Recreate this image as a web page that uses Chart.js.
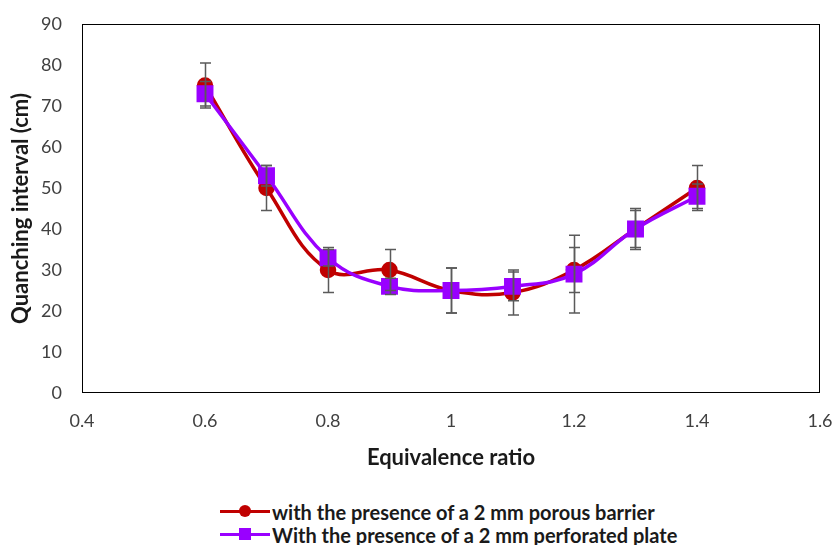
<!DOCTYPE html>
<html>
<head>
<meta charset="utf-8">
<script src="https://cdn.jsdelivr.net/npm/chart.js@4/dist/chart.umd.min.js"></script>
<style>
  body { margin: 0; background: #fff; width: 834px; height: 545px; position: relative; overflow: hidden; }
  #wrap { position: absolute; left: 0; top: 0; width: 834px; height: 475px; }
  #legenda { position: absolute; left: 220px; top: 500px; font-family: Lato, sans-serif; font-weight: bold; font-size: 20px; color: #1a1a1a; }
  .item { height: 23px; display: flex; align-items: center; }
  .amostra { position: relative; width: 52px; height: 23px; }
  .amostra .linha { position: absolute; left: 0; top: 10px; width: 50px; height: 3px; }
  .amostra .marca { position: absolute; }
</style>
</head>
<body>
<div id="wrap"><canvas id="grafico_quench"></canvas></div>
<div id="legenda">
  <div class="item"><div class="amostra"><div class="linha" style="background:#C00000"></div><div class="marca" style="left:19px;top:5px;width:12px;height:12px;border-radius:50%;background:#C00000"></div></div><span>with the presence of a 2 mm porous barrier</span></div>
  <div class="item"><div class="amostra"><div class="linha" style="background:#9900FF"></div><div class="marca" style="left:19px;top:5px;width:12px;height:12px;background:#9900FF"></div></div><span>With the presence of a 2 mm perforated plate</span></div>
</div>
<script>
// razão de equivalência (eixo x)
const ratios = [0.6, 0.7, 0.8, 0.9, 1.0, 1.1, 1.2, 1.3, 1.4];

// barreira porosa 2 mm
const porous_barrier = [75, 50, 30, 30, 25, 24.5, 30, 40, 50];
const porous_err = [5.5, 5.5, 5.5, 5, 5.5, 5.5, 5.5, 5, 5.5];

// placa perfurada 2 mm
const perforated_plate = [73, 53, 33, 26, 25, 26, 29, 40, 48];
const perforated_err = [3, 2.5, 2, 2, 5.5, 3.5, 9.5, 4.5, 3];

const x_ticks = [0.4, 0.6, 0.8, 1, 1.2, 1.4, 1.6];

const pares = (ys) => ratios.map((x, i) => ({ x: x, y: ys[i] }));
const erros = [porous_err, perforated_err];

// moldura + barras de erro
const extras = {
    id: "extras",
    beforeDatasetsDraw(chart) {
        const { ctx, chartArea } = chart;
        ctx.save();
        ctx.strokeStyle = "#000";
        ctx.lineWidth = 1;
        ctx.strokeRect(chartArea.left + 0.5, chartArea.top + 0.5, chartArea.width - 1, chartArea.height - 1);
        ctx.restore();
    },
    afterDatasetsDraw(chart) {
        const { ctx } = chart;
        const xs = chart.scales.x;
        const ys = chart.scales.y;
        ctx.save();
        ctx.strokeStyle = "#5a5a5a";
        ctx.lineWidth = 1.5;
        chart.data.datasets.forEach((ds, i) => {
            ds.data.forEach((p, j) => {
                const e = erros[i][j];
                const x = Math.round(xs.getPixelForValue(p.x)) + 0.5;
                const y1 = ys.getPixelForValue(p.y + e);
                const y2 = ys.getPixelForValue(p.y - e);
                ctx.beginPath();
                ctx.moveTo(x, y1); ctx.lineTo(x, y2);
                ctx.moveTo(x - 5.5, y1); ctx.lineTo(x + 5.5, y1);
                ctx.moveTo(x - 5.5, y2); ctx.lineTo(x + 5.5, y2);
                ctx.stroke();
            });
        });
        ctx.restore();
    },
};

new Chart("grafico_quench", {
    type: "line",
    data: {
        datasets: [
            {
                label: "with the presence of a 2 mm porous barrier",
                data: pares(porous_barrier),
                borderColor: "#C00000",
                backgroundColor: "#C00000",
                borderWidth: 3.5,
                pointStyle: "circle",
                pointRadius: 6.5,
                tension: 0.4,
                order: 2,
            },
            {
                label: "With the presence of a 2 mm perforated plate",
                data: pares(perforated_plate),
                borderColor: "#9900FF",
                backgroundColor: "#9900FF",
                borderWidth: 3.5,
                pointStyle: "rect",
                pointRadius: 9.5,
                tension: 0.4,
                order: 1,
            },
        ],
    },
    options: {
        responsive: true,
        maintainAspectRatio: false,
        animation: false,
        layout: { padding: { top: 24, right: 14, left: 0, bottom: 0 } },
        plugins: {
            legend: { display: false },
            tooltip: { enabled: false },
        },
        scales: {
            x: {
                type: "linear",
                min: 0.4,
                max: 1.6,
                afterBuildTicks: (scale) => {
                    scale.ticks = x_ticks.map((v) => ({ value: v }));
                },
                afterFit: (scale) => {
                    scale.height = 82;
                    scale.paddingLeft = 12;
                    scale.paddingRight = 12;
                },
                grid: { display: false },
                border: { display: false },
                ticks: {
                    padding: 9,
                    color: "#404040",
                    font: { family: "Lato", size: 18 },
                    callback: (v) => String(Math.round(v * 10) / 10),
                },
                title: {
                    display: true,
                    text: "Equivalence ratio",
                    color: "#1a1a1a",
                    font: { family: "Lato", size: 22, weight: "bold" },
                    padding: { top: 0, bottom: 4 },
                },
            },
            y: {
                min: 0,
                max: 90,
                afterFit: (scale) => {
                    scale.width = 82;
                    scale.paddingTop = 11;
                    scale.paddingBottom = 11;
                },
                grid: { display: false },
                border: { display: false },
                ticks: {
                    stepSize: 10,
                    padding: 12,
                    color: "#404040",
                    font: { family: "Lato", size: 18 },
                },
                title: {
                    display: true,
                    text: "Quanching interval (cm)",
                    color: "#1a1a1a",
                    font: { family: "Lato", size: 22, weight: "bold" },
                    padding: { top: 8, bottom: 0 },
                },
            },
        },
    },
    plugins: [extras],
});
</script>
</body>
</html>
